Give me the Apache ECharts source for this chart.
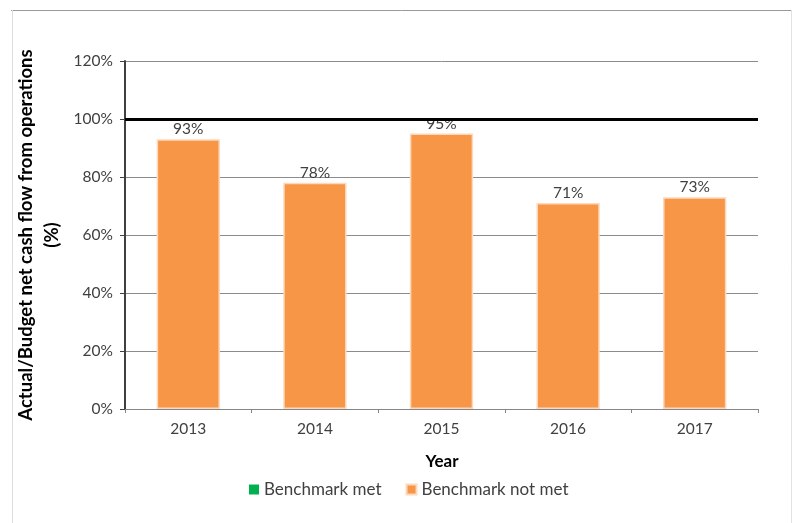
<!DOCTYPE html>
<html>
<head>
<meta charset="utf-8">
<script src="https://cdn.jsdelivr.net/npm/echarts@6/dist/echarts.min.js"></script>
<style>
  html, body { margin: 0; padding: 0; background: #fff; }
  #chart { width: 797px; height: 523px; }
</style>
</head>
<body>
<div id="chart"></div>
<script>
// values
var years = ['2013', '2014', '2015', '2016', '2017'];
var notMet = [93, 78, 95, 71, 73];
var met = [null, null, null, null, null];
var benchmark = 100;

var font = 'Lato, "Open Sans", sans-serif';

var myChart = echarts.init(document.getElementById('chart'));
var option = {
  animation: false,
  textStyle: { fontFamily: font },
  grid: { left: 125, right: 39, top: 61, bottom: 114 },
  graphic: [
    // outer frame
    { type: 'line', shape: { x1: 11, y1: 10.5, x2: 792, y2: 10.5 }, style: { stroke: '#999', lineWidth: 1 } },
    { type: 'line', shape: { x1: 12.5, y1: 10, x2: 12.5, y2: 523 }, style: { stroke: '#ddd', lineWidth: 1 } },
    { type: 'line', shape: { x1: 791.5, y1: 10, x2: 791.5, y2: 523 }, style: { stroke: '#e2e2e2', lineWidth: 1 } },
    {
      type: 'text', x: 39, y: 235, rotation: Math.PI / 2,
      style: {
        text: 'Actual/Budget net cash flow from operations\n(%)',
        font: 'bold 18.5px ' + font, fill: '#000',
        textAlign: 'center', textVerticalAlign: 'middle', lineHeight: 26
      }
    },
    {
      type: 'text', x: 442, y: 462,
      style: { text: 'Year', font: 'bold 17px ' + font, fill: '#000', textAlign: 'center', textVerticalAlign: 'middle' }
    }
  ],
  legend: {
    left: 244, top: 476,
    itemWidth: 10, itemHeight: 10, itemGap: 24,
    icon: 'rect',
    textStyle: { fontSize: 17, color: '#404040', fontFamily: font },
    data: ['Benchmark met', 'Benchmark not met']
  },
  xAxis: {
    type: 'category',
    data: years,
    axisLine: { lineStyle: { color: '#868686', width: 1 } },
    axisTick: { show: true, length: 4, lineStyle: { color: '#868686' } },
    axisLabel: { fontSize: 15.5, color: '#404040', margin: 12 }
  },
  yAxis: {
    type: 'value',
    min: 0, max: 120, interval: 20,
    axisLine: { show: true, lineStyle: { color: '#404040', width: 2 } },
    axisTick: { show: true, length: 5, lineStyle: { color: '#404040' } },
    axisLabel: { fontSize: 15.5, color: '#404040', margin: 12, formatter: '{value}%' },
    splitLine: { show: true, lineStyle: { color: '#8c8c8c', width: 1 } }
  },
  series: [
    {
      name: 'Benchmark met', type: 'bar', stack: 'b', barWidth: '50%',
      itemStyle: { color: '#00B050' },
      data: met
    },
    {
      name: 'Benchmark not met', type: 'bar', stack: 'b', barWidth: '50%',
      itemStyle: { color: '#F79646', borderColor: '#FCD9BC', borderWidth: 1.5 },
      label: { show: true, position: 'top', distance: 2, fontSize: 15.5, color: '#404040', formatter: '{c}%' },
      data: notMet,
      markLine: {
        silent: true, symbol: 'none', label: { show: false },
        lineStyle: { color: '#000', width: 3, type: 'solid' },
        data: [{ yAxis: benchmark }]
      }
    }
  ]
};
myChart.setOption(option);
window.onresize = myChart.resize;
</script>
</body>
</html>
